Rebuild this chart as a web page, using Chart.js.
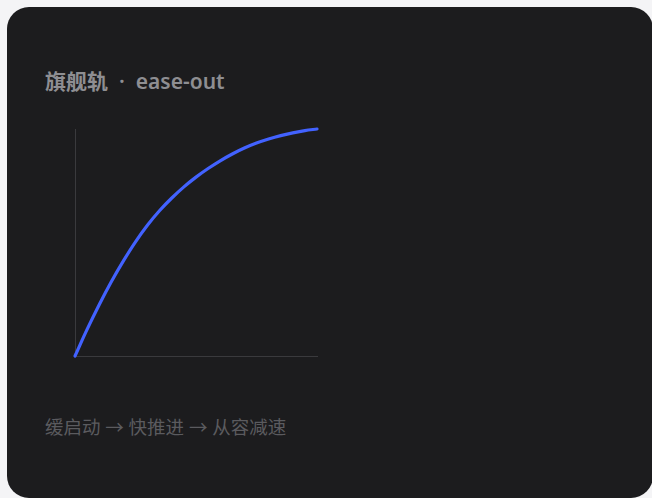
<!DOCTYPE html>
<html>
<head>
<meta charset="utf-8">
<script src="https://cdn.jsdelivr.net/npm/chart.js@4"></script>
<style>
  html, body { margin: 0; padding: 0; background: #f4f4f6; overflow: hidden; }
  body { width: 652px; height: 498px; position: relative; font-family: "Noto Sans", "Noto Sans CJK SC", sans-serif; }
  #card { position: absolute; left: 7px; top: 7px; width: 646px; height: 491px; background: #1c1c1e; border-radius: 22px; }
  #title { position: absolute; left: 38px; top: 58px; font-size: 21px; font-weight: 600; color: #8e8e92; white-space: nowrap; }
  #title .dot { margin: 0 11px; }
  #footer { position: absolute; left: 38px; top: 406px; font-size: 18.5px; color: #5b5b5f; white-space: nowrap; }
  #wrap { position: absolute; left: 63px; top: 117px; width: 252px; height: 237px; }
</style>
</head>
<body>
<div id="card">
  <div id="title">旗舰轨<span class="dot">·</span>ease-out</div>
  <div id="wrap"><canvas id="myChart"></canvas></div>
  <div id="footer">缓启动 → 快推进 → 从容减速</div>
</div>
<script>
// progress of time (%) and eased value (%)
const progress = [0, 5, 10, 15, 20, 25, 30, 35, 40, 45, 50, 55, 60, 65, 70, 75, 80, 85, 90, 95, 100];
const eased = [0, 11.7, 22.6, 32.7, 41.9, 50.3, 57.7, 64.1, 69.6, 74.5, 78.8, 82.6, 86.0, 89.0, 91.6, 93.8, 95.6, 97.1, 98.3, 99.3, 100];

const points = progress.map((p, i) => ({ x: p, y: eased[i] }));

const canvas = document.getElementById("myChart");
const ctx = canvas.getContext('2d');

const myChart = new Chart(ctx, {
    type: 'line',
    data: {
        datasets: [{
            data: points,
            borderColor: '#4262ff',
            borderWidth: 3.2,
            borderCapStyle: 'round',
            borderJoinStyle: 'round',
            pointRadius: 0,
            cubicInterpolationMode: 'monotone',
            fill: false,
            clip: false
        }]
    },
    options: {
        responsive: true,
        maintainAspectRatio: false,
        animation: false,
        layout: { padding: 5 },
        plugins: {
            legend: { display: false },
            tooltip: { enabled: false }
        },
        scales: {
            x: {
                type: 'linear',
                min: 0,
                max: 100,
                ticks: { display: false },
                grid: { display: false, drawTicks: false },
                border: { display: true, color: '#3a3a3d', width: 1 }
            },
            y: {
                type: 'linear',
                min: 0,
                max: 100,
                ticks: { display: false },
                grid: { display: false, drawTicks: false },
                border: { display: true, color: '#3a3a3d', width: 1 }
            }
        }
    }
});
</script>
</body>
</html>
